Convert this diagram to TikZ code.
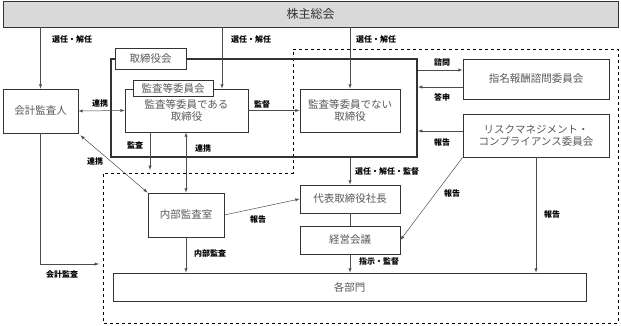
\documentclass[tikz,border=0pt]{standalone}
\usepackage{fontspec}
\setmainfont{Noto Sans CJK JP}
\usepackage{tikz}
\usetikzlibrary{shapes,arrows,positioning}

\begin{document}
\begin{tikzpicture}[
        x=1pt, y=1pt,
        box/.style={rectangle, draw=black!80, line width=0.8pt, fill=white, inner sep=0pt, align=center,
            text=black!65, font=\fontsize{10.5}{12.5}\selectfont},
        tag/.style={font=\fontsize{8}{9}\selectfont\bfseries, inner sep=1pt},
        arr/.style={->, >=latex, draw=black!70, line width=0.5pt},
        dbl/.style={<->, >=latex, draw=black!70, line width=0.5pt}
    ]
        \useasboundingbox (0,0) rectangle (621,325);
        % scope of the board and the executive side
        \draw[dashed, line width=0.8pt] (293,276) -- (618,276) -- (618,2) -- (103,2) -- (103,152) -- (293,152) -- cycle;
        \node[box, fill=gray!30, text=black!80, font=\fontsize{12}{14}\selectfont, minimum width=615pt, minimum height=26pt] (soukai) at (310.5,311) {株主総会};
        \node[box, fill=none, line width=2pt, minimum width=306pt, minimum height=98pt] (board) at (264,217) {};
        \node[box, minimum width=71pt, minimum height=21pt] (boardlbl) at (150.5,266.5) {取締役会};
        \node[box, minimum width=75pt, minimum height=44pt] (kaikei) at (40.5,214) {会計監査人};
        \node[box, minimum width=123pt, minimum height=43pt] (kansa) at (186.5,214.5) {監査等委員である\\取締役};
        \node[box, minimum width=80pt, minimum height=16pt] (kansakai) at (173,237) {監査等委員会};
        \node[box, minimum width=100pt, minimum height=43pt] (nonexec) at (350,214.5) {監査等委員でない\\取締役};
        \node[box, minimum width=146pt, minimum height=40pt] (shimei) at (536,246) {指名報酬諮問委員会};
        \node[box, minimum width=146pt, minimum height=43pt] (risk) at (536,189.5) {リスクマネジメント・\\コンプライアンス委員会};
        \node[box, minimum width=76pt, minimum height=44pt] (naibu) at (186,110) {内部監査室};
        \node[box, minimum width=100pt, minimum height=28pt] (ceo) at (350,126) {代表取締役社長};
        \node[box, minimum width=100pt, minimum height=28pt] (keiei) at (350,85) {経営会議};
        \node[box, minimum width=473pt, minimum height=28pt] (bumon) at (349.5,38) {各部門};
        \coordinate (kansaout) at (150,155);
        \coordinate (auditin) at (99,61);
        % from the shareholders
        \draw[arr] (kaikei.north |- soukai.south) -- (kaikei.north);
        \draw[arr] ([xshift=35.5pt]kansa.north |- soukai.south) -- ([xshift=35.5pt]kansa.north);
        \draw[arr] (nonexec.north |- soukai.south) -- (nonexec.north);
        \node[tag] at (72,286) {選任・解任};
        \node[tag] at (251,286) {選任・解任};
        \node[tag] at (376,286) {選任・解任};
        % audit side
        \draw[dbl] (kaikei.east) -- (kansa.west);
        \node[tag] at (100,222) {連携};
        \draw[arr] (kansa.east) -- (nonexec.west);
        \node[tag] at (262,221) {監督};
        \draw[arr] (kansaout |- kansa.south) -- (kansaout);
        \node[tag] at (135,180) {監査};
        \draw[dbl] (naibu.north) -- (naibu.north |- kansa.south);
        \node[tag] at (203,177) {連携};
        \draw[dbl] ([shift={(2pt,-2pt)}]kaikei.south east) -- (naibu.north west);
        \node[tag] at (95,164) {連携};
        \draw[arr] (kaikei.south) |- (auditin);
        \node[tag] at (62,51) {会計監査};
        \draw[arr] (naibu.east) -- (ceo.west);
        \node[tag] at (258,106) {報告};
        \draw[arr] (naibu.south) -- (naibu.south |- bumon.north);
        \node[tag] at (210,72) {内部監査};
        % executive side
        \draw[arr] (board.south -| ceo.north) -- (ceo.north);
        \node[tag] at (387,154) {選任・解任・監督};
        \draw[draw=black!70, line width=0.5pt] (ceo.south) -- (keiei.north);
        \draw[arr] (keiei.south) -- (keiei.south |- bumon.north);
        \node[tag] at (379,64) {指示・監督};
        % committees
        \draw[arr] (board.east |- 0,255) -- (shimei.west |- 0,255);
        \node[tag] at (442,263) {諮問};
        \draw[arr] (shimei.west |- 0,238) -- (board.east |- 0,238);
        \node[tag] at (442,228) {答申};
        \draw[arr] (risk.west |- 0,194) -- (board.east |- 0,194);
        \node[tag] at (442,183) {報告};
        \draw[arr] (risk.south west) -- (keiei.east);
        \node[tag] at (452,132) {報告};
        \draw[arr] (risk.south) -- (risk.south |- bumon.north);
        \node[tag] at (552,111) {報告};
    \end{tikzpicture}
\end{document}
